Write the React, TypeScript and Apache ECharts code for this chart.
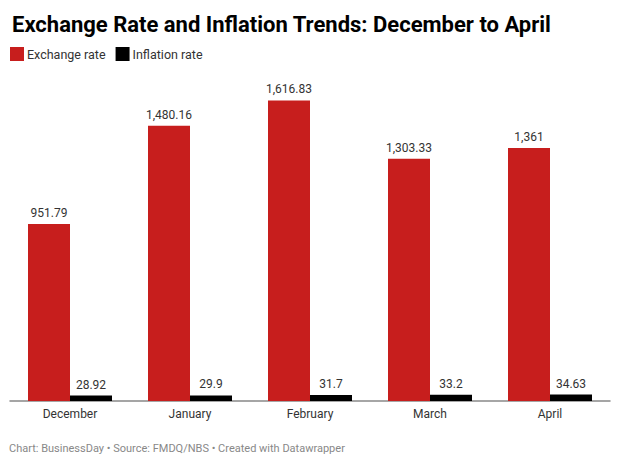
import React, { useEffect, useRef } from "react";
import * as echarts from "echarts";

const categories = ["December", "January", "February", "March", "April"];
const exchangeRate = [951.79, 1480.16, 1616.83, 1303.33, 1361];
const inflationRate = [28.92, 29.9, 31.7, 33.2, 34.63];
const seriesNames = ["Exchange rate", "Inflation rate"];

const fmt = (v: number) =>
  v.toLocaleString("en-US", { maximumFractionDigits: 2 });

export default function App() {
  const ref = useRef<HTMLDivElement>(null);
  useEffect(() => {
    if (!ref.current) return;
    const chart = echarts.init(ref.current, undefined, { renderer: "svg" });
    const font = "Roboto, 'Noto Sans', sans-serif";
    const labelStyle = {
      show: true,
      position: "top" as const,
      distance: 5,
      color: "#333",
      fontSize: 12,
      fontFamily: font,
      formatter: (p: any) => fmt(p.value),
    };
    chart.setOption({
      animation: false,
      backgroundColor: "#fff",
      title: {
        text: "Exchange Rate and Inflation Trends: December to April",
        left: 7,
        top: 8,
        textStyle: { fontFamily: font, fontWeight: "bold", fontSize: 22, color: "#000" },
      },
      legend: {
        left: 5,
        top: 42,
        itemWidth: 14,
        itemHeight: 14,
        itemGap: 10,
        icon: "rect",
        textStyle: { fontFamily: font, fontSize: 12.5, color: "#333", padding: [0, 0, 0, -2] },
        data: seriesNames,
      },
      grid: { left: 10, right: 10, top: 85, bottom: 67 },
      xAxis: {
        type: "category",
        data: categories,
        axisLine: { lineStyle: { color: "#888", width: 1.5 } },
        axisTick: { show: false },
        axisLabel: { color: "#333", fontSize: 12, fontFamily: font, margin: 7 },
      },
      yAxis: {
        type: "value",
        min: 0,
        max: 1700,
        show: false,
        splitLine: { show: false },
      },
      graphic: [
        {
          type: "text",
          left: 9,
          top: 443,
          style: {
            text: "Chart: BusinessDay • Source: FMDQ/NBS • Created with Datawrapper",
            fill: "#888",
            fontSize: 11,
            fontFamily: font,
          },
        },
      ],
      series: [
        {
          name: seriesNames[0],
          type: "bar",
          data: exchangeRate,
          itemStyle: { color: "#c71e1d" },
          barGap: "0%",
          barCategoryGap: "30%",
          label: labelStyle,
        },
        {
          name: seriesNames[1],
          type: "bar",
          data: inflationRate,
          itemStyle: { color: "#000" },
          barGap: "0%",
          barCategoryGap: "30%",
          label: labelStyle,
        },
      ],
    });
    return () => chart.dispose();
  }, []);
  return (
    <div
      ref={ref}
      style={{ position: "absolute", left: 0, top: 0, width: 620, height: 468 }}
    />
  );
}
